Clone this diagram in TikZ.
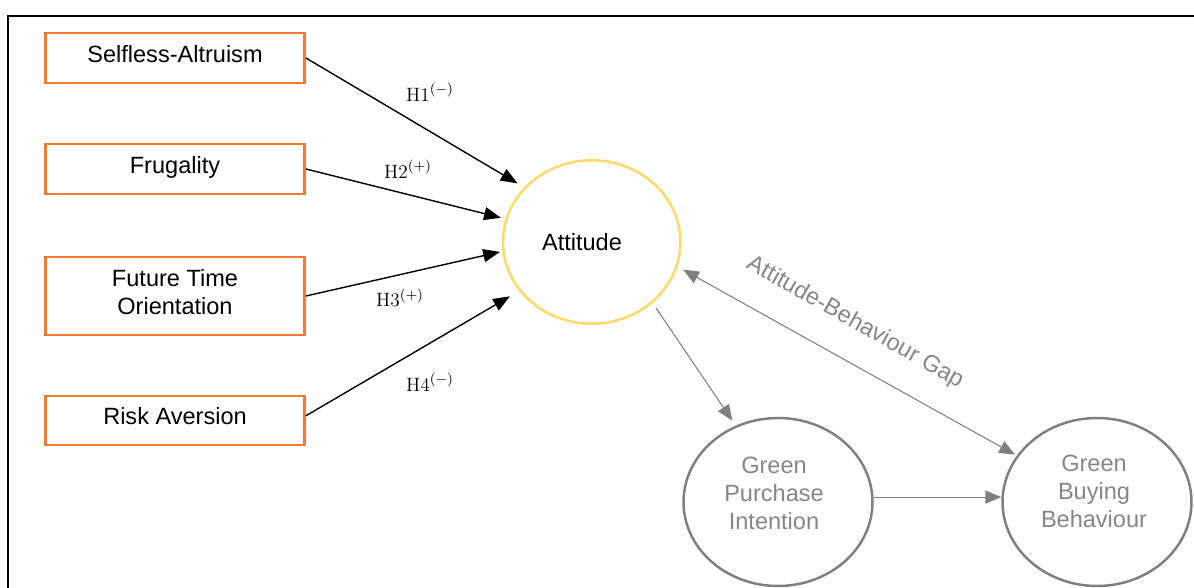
\documentclass[tikz,border=0pt]{standalone}
\usepackage{fontspec}
\newfontfamily\arialf{Liberation Sans}
\usetikzlibrary{arrows.meta,shapes.geometric}
\definecolor{boxorange}{HTML}{ED7D31}
\definecolor{attyellow}{HTML}{FFD966}
\definecolor{midgray}{HTML}{7F7F7F}
\definecolor{txtgray}{HTML}{868686}
\begin{document}
\begin{tikzpicture}[x=0.02cm,y=-0.02cm,
  every node/.style={font=\arialf\fontsize{13.4}{15.9}\selectfont},
  factor/.style={draw=boxorange, line width=1.4pt, minimum width=5.19cm,
    minimum height=0.99cm, align=center, inner sep=0pt, fill=white,
    text height=9.6pt, text depth=4.6pt},
  attnode/.style={ellipse, draw=attyellow, line width=1.4pt, minimum width=3.55cm,
    minimum height=3.27cm, inner sep=0pt},
  graynode/.style={ellipse, draw=midgray, line width=1.4pt, minimum width=3.78cm,
    minimum height=3.36cm, inner sep=0pt},
  graytext/.style={text=txtgray, align=center, inner sep=0pt},
  hlab/.style={font=\fontsize{11}{13}\selectfont, inner sep=0pt},
  blackarrow/.style={draw=black, line width=0.8pt, -{Triangle[length=9.6pt,width=7.4pt]}},
  grayarrow/.style={draw=midgray, line width=0.6pt, -{Triangle[length=9pt,width=7.4pt]}},
  grayboth/.style={draw=midgray, line width=0.6pt,
    {Triangle[length=9pt,width=7.4pt]}-{Triangle[length=9pt,width=7.4pt]}},
  framestyle/.style={draw=black, line width=1.1pt}
]
\useasboundingbox (0,0) rectangle (1194,588);
\clip (0,0) rectangle (1194,588);

% frame
\draw[framestyle] (8,610) -- (8,16) -- (1220,16);

% factor boxes
\node[factor] (sa) at (175,58) {Selfless-Altruism};
\node[factor] (fr) at (175,169) {Frugality};
\node[factor, minimum height=1.55cm, text height=25.5pt, text depth=4.6pt] (ft) at (175,296) {Future Time\\Orientation};
\node[factor] (ra) at (175,420.5) {Risk Aversion};

% constructs
\node[attnode] (att) at (591.7,242) {};
\node[inner sep=0pt] (attlbl) at (582,242) {Attitude};
\node[graynode] (gpi) at (778,502) {};
\node[graytext] (gpilbl) at (774,493.5) {Green\\Purchase\\Intention};
\node[graynode] (gbb) at (1097,502) {};
\node[graytext] (gbblbl) at (1094,491) {Green\\Buying\\Behaviour};

% hypothesis arrows
\draw[blackarrow, shorten >=4.3pt] (sa.east) -- (att.141.7);
\draw[blackarrow, shorten >=2.6pt] (fr.east) -- (att.165.3);
\draw[blackarrow, shorten >=1.3pt] (ft.east) -- (att.186.8);
\draw[blackarrow, shorten >=6pt] ([yshift=2.7pt]ra.east) -- (att.214);

\node[hlab] (h1) at (430,92) {$\mathrm{H1}^{(-)}$};
\node[hlab] (h2) at (408,169) {$\mathrm{H2}^{(+)}$};
\node[hlab] (h3) at (400,298) {$\mathrm{H3}^{(+)}$};
\node[hlab] (h4) at (430,382) {$\mathrm{H4}^{(-)}$};

% gray arrows
\draw[grayarrow, shorten <=3.6pt, shorten >=3.4pt] (att.315.6) -- (gpi.119.9);
\draw[grayarrow] ([yshift=2.8pt]gpi.east) -- ([yshift=2.8pt]gbb.west);
\draw[grayboth, shorten <=3.6pt, shorten >=1.1pt] (att.344.7) -- (gbb.150.7);

\node[text=txtgray, inner sep=0pt, anchor=base, rotate=-29.4] (gaplbl) at (852,328) {Attitude-Behaviour Gap};
\end{tikzpicture}
\end{document}
